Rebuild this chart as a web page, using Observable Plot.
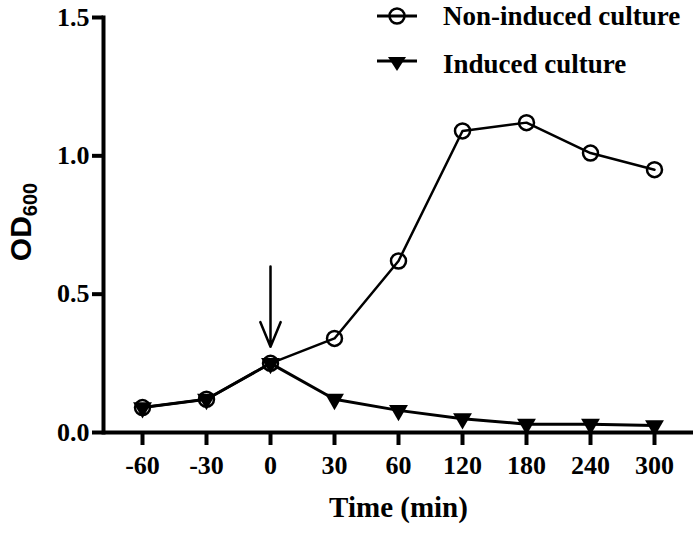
<!DOCTYPE html>
<html>
<head>
<meta charset="utf-8">
<script src="https://cdn.jsdelivr.net/npm/d3@7"></script>
<script src="https://cdn.jsdelivr.net/npm/@observablehq/plot@0.6"></script>
<style>
  html, body { margin: 0; padding: 0; background: #fff; }
  #wrap { position: relative; width: 700px; height: 534px; font-family: "Liberation Serif", "Times New Roman", serif; }
  #ylabel { position: absolute; left: 23px; top: 222px; transform: translate(-50%, -50%) rotate(-90deg); font-family: "Liberation Sans", Arial, sans-serif; font-weight: bold; font-size: 30px; white-space: nowrap; }
  #ylabel sub { font-size: 20px; vertical-align: -6px; }
  #legend { position: absolute; left: 375px; top: -8px; font-weight: bold; font-size: 27px; }
  .lg { display: flex; align-items: center; height: 48px; }
  .lg svg { margin-right: 24px; }
</style>
</head>
<body>
<div id="wrap">
  <div id="chart"></div>
  <div id="ylabel">OD<sub>600</sub></div>
  <div id="legend">
    <div class="lg"><svg width="44" height="20"><line x1="2" x2="42" y1="10" y2="10" stroke="#000" stroke-width="3"/><circle cx="22" cy="10" r="7.5" fill="none" stroke="#000" stroke-width="2.5"/></svg><span>Non-induced culture</span></div>
    <div class="lg"><svg width="44" height="20"><line x1="2" x2="42" y1="7" y2="7" stroke="#000" stroke-width="3"/><path d="M13,3 L31,3 L22,17 Z" fill="#000"/></svg><span>Induced culture</span></div>
  </div>
</div>
<script>
const times = ["-60", "-30", "0", "30", "60", "120", "180", "240", "300"];
const nonInduced = [0.09, 0.12, 0.25, 0.34, 0.62, 1.09, 1.12, 1.01, 0.95];
const induced = [0.09, 0.12, 0.25, 0.12, 0.08, 0.05, 0.03, 0.03, 0.025];
const yTicks = [0, 0.5, 1.0, 1.5];
const arrowAt = { time: "0", from: 0.6, to: 0.31 };

const nonData = times.map((t, i) => ({ time: t, od: nonInduced[i] }));
const indData = times.map((t, i) => ({ time: t, od: induced[i] }));

const chart = Plot.plot({
  width: 700,
  height: 534,
  marginLeft: 103,
  marginRight: 7,
  marginTop: 17,
  marginBottom: 102,
  style: { fontFamily: "Liberation Serif, Times New Roman, serif", fontWeight: "bold", fontSize: "26px", background: "#fff", color: "#000" },
  x: { type: "point", domain: times, padding: 0.54 },
  y: { domain: [0, 1.5] },
  marks: [
    Plot.axisY({ ticks: yTicks, tickFormat: d3.format(".1f"), tickSize: 11, tickPadding: 3, strokeWidth: 4, label: null, fontSize: 26 }),
    Plot.axisX({ tickSize: 13, tickPadding: 10, strokeWidth: 4, label: null, fontSize: 26 }),
    Plot.frame({ anchor: "left", strokeWidth: 4 }),
    Plot.ruleY([0], { strokeWidth: 4 }),
    Plot.line(nonData, { x: "time", y: "od", stroke: "#000", strokeWidth: 2.5 }),
    Plot.dot(nonData, { x: "time", y: "od", r: 7.5, stroke: "#000", strokeWidth: 2.5, fill: "none" }),
    Plot.line(indData, { x: "time", y: "od", stroke: "#000", strokeWidth: 3 }),
    Plot.dot(indData, { x: "time", y: "od", symbol: "triangle2", rotate: 180, r: 9, fill: "#000", stroke: "none" }),
    Plot.arrow([arrowAt], { x1: "time", x2: "time", y1: "from", y2: "to", stroke: "#000", strokeWidth: 2.5, headLength: 16, headAngle: 45 }),
    Plot.text(["Time (min)"], { frameAnchor: "bottom", dy: 84, fontSize: 29, fontWeight: "bold" })
  ]
});
document.getElementById("chart").appendChild(chart);
</script>
</body>
</html>
